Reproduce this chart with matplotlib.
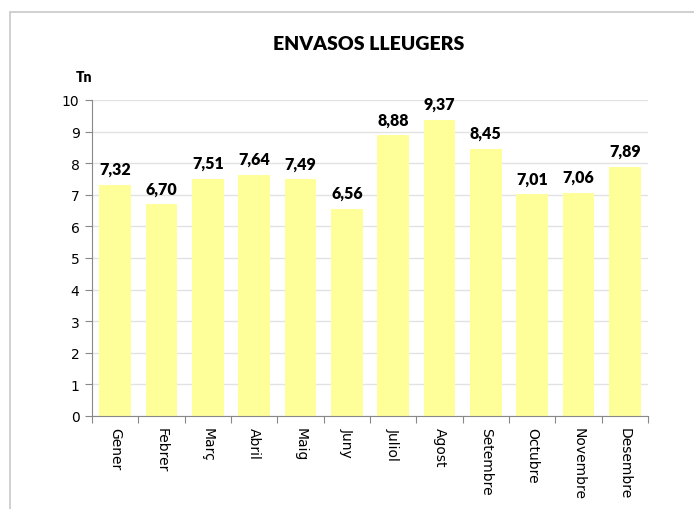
import matplotlib.pyplot as plt
from matplotlib.patches import Rectangle
import numpy as np

# Données
mesos = ['Gener', 'Febrer', 'Març', 'Abril', 'Maig', 'Juny', 'Juliol', 'Agost',
         'Setembre', 'Octubre', 'Novembre', 'Desembre']
tones = [7.32, 6.70, 7.51, 7.64, 7.49, 6.56, 8.88, 9.37, 8.45, 7.01, 7.06, 7.89]
y_ticks = [0, 1, 2, 3, 4, 5, 6, 7, 8, 9, 10]

fig = plt.figure(figsize=(6.94, 5.10), dpi=100)

# Cadre gris du graphique (coupé à droite et en bas)
fig.patches.append(Rectangle((10 / 694, -0.1), 1.2, 1 - 13 / 510 + 0.1,
                             transform=fig.transFigure, fill=False,
                             edgecolor='#c8c8c8', linewidth=1.2))

ax = fig.add_axes([92 / 694, 1 - 417 / 510, 556 / 694, 316 / 510])

x = np.arange(len(mesos))
ax.bar(x, tones, width=0.68, color='#ffff99', zorder=2)

for xi, v in zip(x, tones):
    ax.text(xi, v + 0.25, f'{v:.2f}'.replace('.', ','), ha='center', va='bottom',
            fontsize=11.5, fontweight='heavy', family='Lato')

ax.set_xlim(-0.5, len(mesos) - 0.5)
ax.set_ylim(0, 10)
ax.set_yticks(y_ticks)
ax.tick_params(axis='y', labelsize=10, length=5, color='#888888', pad=4)
ax.grid(axis='y', color='#e2e2e2', linewidth=1, zorder=0)

# Ticks de l'axe x entre les catégories
ax.set_xticks(np.arange(-0.5, len(mesos), 1))
ax.set_xticklabels([])
ax.set_xticks(x, minor=True)
ax.set_xticklabels(mesos, minor=True, rotation=-90, fontsize=10, va='top')
ax.tick_params(axis='x', which='major', length=5, color='#888888')
ax.tick_params(axis='x', which='minor', length=0, pad=8)

for s in ['top', 'right']:
    ax.spines[s].set_visible(False)
for s in ['left', 'bottom']:
    ax.spines[s].set_color('#888888')

fig.text(369 / 694, 1 - 45 / 510, 'ENVASOS LLEUGERS', ha='center', va='center',
         fontsize=14, fontweight='heavy', family='Lato')
fig.text(84 / 694, 1 - 77 / 510, 'Tn', ha='center', va='center',
         fontsize=10, fontweight='heavy', family='Lato')

plt.savefig('out.png', dpi=100)
